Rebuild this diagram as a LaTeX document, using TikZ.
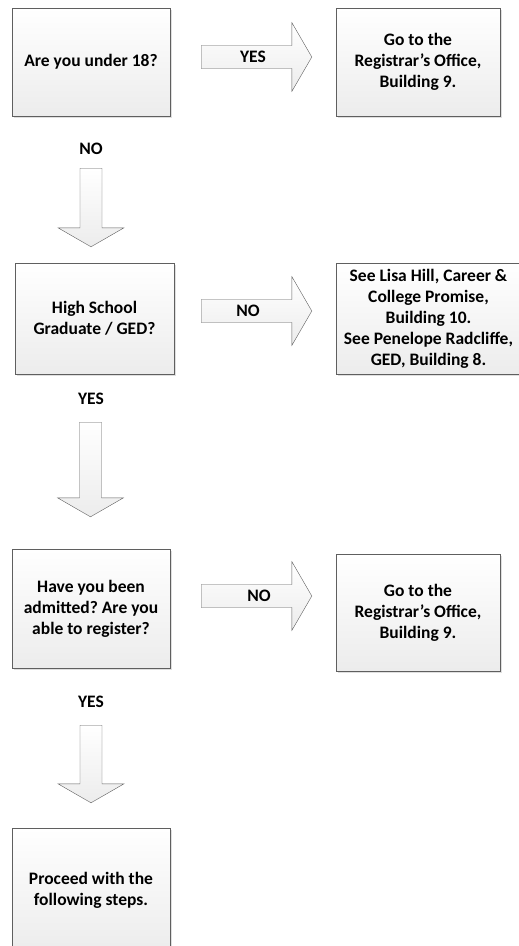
\documentclass[tikz,border=0pt]{standalone}
\usepackage{fontspec}
\setmainfont{Carlito}
\usetikzlibrary{calc}
\usetikzlibrary{shadows}
\frenchspacing

\definecolor{edgegray}{HTML}{5F5F5F}
\definecolor{fillgray}{HTML}{ECECEC}

\tikzset{
  box/.style={draw=edgegray, top color=white, bottom color=fillgray, align=center,
    font=\fontsize{17.5}{21}\selectfont\bfseries, inner sep=0pt,
    drop shadow={shadow xshift=2pt, shadow yshift=-2pt, opacity=0.25}},
  blockarrow/.style={draw=edgegray, top color=white, bottom color=fillgray, line join=miter},
  answer/.style={font=\fontsize{17.5}{21}\selectfont\bfseries}
}

\newcommand{\rightblock}[2]{%
  \draw[blockarrow] let \p1=(#1), \p2=(#2) in
    (\x1,\y1+11.5pt) -- (\x2-20pt,\y1+11.5pt) -- (\x2-20pt,\y1+34.5pt) -- (\x2,\y1)
    -- (\x2-20pt,\y1-34.5pt) -- (\x2-20pt,\y1-11.5pt) -- (\x1,\y1-11.5pt) -- cycle;}
\newcommand{\downblock}[2]{%
  \draw[blockarrow] let \p1=(#1), \p2=(#2) in
    (\x1-11pt,\y1) -- (\x1+11pt,\y1) -- (\x1+11pt,\y2+19pt) -- (\x1+33pt,\y2+19pt) -- (\x1,\y2)
    -- (\x1-33pt,\y2+19pt) -- (\x1-11pt,\y2+19pt) -- cycle;}

\begin{document}
\begin{tikzpicture}[x=1pt, y=-1pt]
    \useasboundingbox (0,0) rectangle (519,946);

    % questions
    \node[box, minimum width=158pt, minimum height=108pt] (q1) at (91,62) {Are you under 18?};
    \node[box, minimum width=159pt, minimum height=111pt] (q2) at (94.5,318.5) {High School\\Graduate / GED?};
    \node[box, minimum width=158pt, minimum height=119pt] (q3) at (91,608.5) {Have you been\\admitted? Are you\\able to register?};
    \node[box, minimum width=158pt, minimum height=124pt] (q4) at (91,890) {Proceed with the\\following steps.};

    % answers
    \node[box, minimum width=164pt, minimum height=108pt] (r1) at (418,62) {Go to the\\Registrar's Office,\\Building 9.};
    \node[box, minimum width=185pt, minimum height=111pt] (r2) at (428.5,318.5) {See Lisa Hill, Career \&\\College Promise,\\Building 10.\\See Penelope Radcliffe,\\GED, Building 8.};
    \node[box, minimum width=164pt, minimum height=117pt] (r3) at (418,612.5) {Go to the\\Registrar's Office,\\Building 9.};

    \coordinate (a1s) at ($(q1.east)+(31,-5)$);
    \coordinate (a1e) at ($(r1.west)+(-24,-5)$);
    \coordinate (a2s) at ($(q2.east)+(27,-7.5)$);
    \coordinate (a2e) at ($(r2.west)+(-24,-7.5)$);
    \coordinate (a3s) at ($(q3.east)+(31,-12.5)$);
    \coordinate (a3e) at ($(r3.west)+(-24,-16.5)$);
    \rightblock{a1s}{a1e}
    \rightblock{a2s}{a2e}
    \rightblock{a3s}{a3e}
    \node[answer] (yes1) at (253,57) {YES};
    \node[answer] (no2) at (248,311) {NO};
    \node[answer] (no3) at (259,596) {NO};

    \coordinate (d1s) at ($(q1.south)+(0,52)$);
    \coordinate (d1e) at ($(q2.north)+(-4,-16)$);
    \coordinate (d2s) at ($(q2.south)+(-4,48)$);
    \coordinate (d2e) at ($(q3.north)+(0,-32)$);
    \coordinate (d3s) at ($(q3.south)+(0,57)$);
    \coordinate (d3e) at ($(q4.north)+(0,-25)$);
    \downblock{d1s}{d1e}
    \downblock{d2s}{d2e}
    \downblock{d3s}{d3e}
    \node[answer] (no1) at (91,149) {NO};
    \node[answer] (yes2) at (91,399) {YES};
    \node[answer] (yes3) at (91,702) {YES};
\end{tikzpicture}
\end{document}
